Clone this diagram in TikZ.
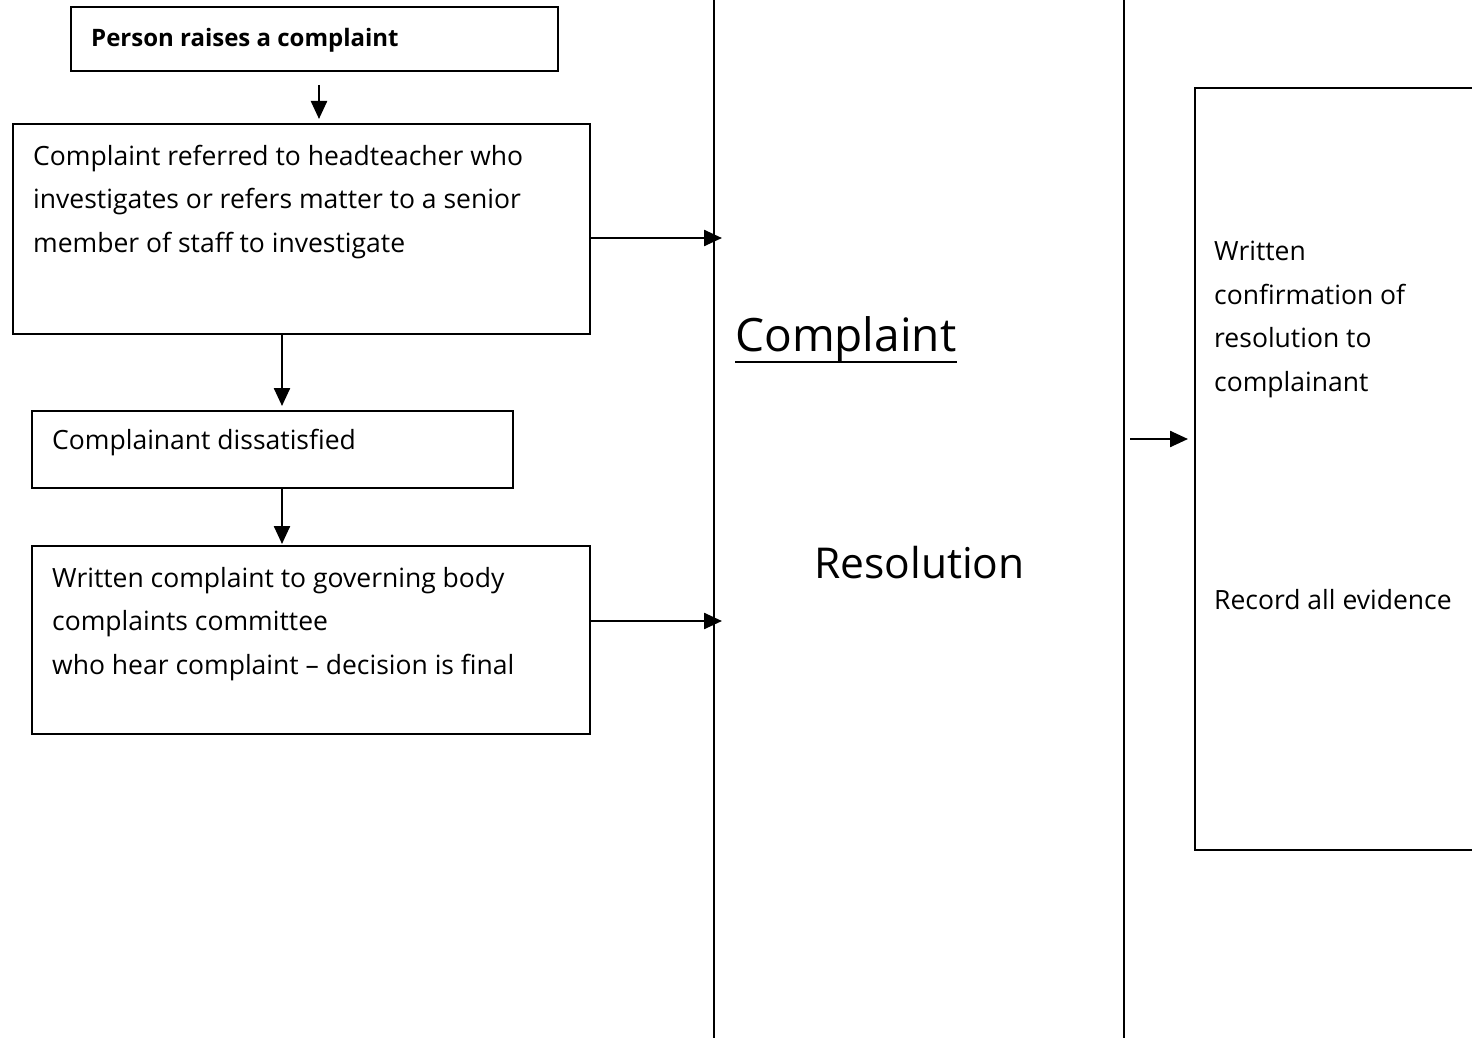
\documentclass[tikz,border=0pt]{standalone}
\usepackage{fontspec}
\setmainfont{Open Sans}
\usetikzlibrary{arrows.meta}
\begin{document}
\begin{tikzpicture}[x=1pt,y=-1pt,
  box/.style={draw=black,line width=2pt,anchor=north west,inner sep=0pt},
  txt/.style={anchor=west,inner sep=0pt,font=\fontsize{26.5}{43.5}\selectfont,align=left},
  conn/.style={line width=2.4pt,-{Triangle[length=18pt,width=16pt]}},
  rule/.style={line width=2pt}]
\useasboundingbox (0,0) rectangle (1472,1038);
% boxes
\node[box,minimum width=487pt,minimum height=64pt] (b1) at (70,6) {};
\node[box,minimum width=577pt,minimum height=210pt] (b2) at (12,123) {};
\node[box,minimum width=481pt,minimum height=77pt] (b3) at (31,410) {};
\node[box,minimum width=558pt,minimum height=188pt] (b4) at (31,545) {};
\node[box,minimum width=290pt,minimum height=762pt] (b5) at (1194,87) {};
% vertical rules
\coordinate (v1t) at (714,0); \coordinate (v1b) at (714,1038);
\coordinate (v2t) at (1124,0); \coordinate (v2b) at (1124,1038);
\draw[rule] (v1t) -- (v1b);
\draw[rule] (v2t) -- (v2b);
% texts
\node[txt,font=\fontsize{24}{30}\selectfont\bfseries] (t1) at (91,40) {Person raises a complaint};
\node[txt,anchor=north west] (t2) at (33,145) {Complaint referred to headteacher who\\investigates or refers matter to a senior\\member of staff to investigate};
\node[txt] (t3) at (52,443) {Complainant dissatisfied};
\node[txt,anchor=north west] (t4) at (52,567) {Written complaint to governing body\\complaints committee\\who hear complaint -- decision is final};
\node[txt,anchor=north west] (t5) at (1214,241) {Written\\confirmation of\\resolution to\\complainant};
\node[txt] (t6) at (1214,600) {Record all evidence};
\node[anchor=west,inner sep=0pt,font=\fontsize{46}{50}\selectfont] (h1) at (735,340) {Complaint};
\draw[line width=1.5pt] (h1.west |- 0,362) -- (h1.east |- 0,362);
\node[anchor=west,inner sep=0pt,font=\fontsize{42.5}{50}\selectfont] (h2) at (814,563) {Resolution};
% connectors
\coordinate (a0) at (319,85);
\draw[conn] (a0) -- ([yshift=4pt]b2.north -| a0);
\draw[conn] (b2.east |- 0,238) -- (722,238);
\draw[conn] (b2.south -| 282,0) -- ([yshift=4pt]b3.north -| 282,0);
\draw[conn] (b3.south -| 282,0) -- ([yshift=1pt]b4.north -| 282,0);
\draw[conn] (b4.east |- 0,621) -- (722,621);
\coordinate (a5) at (1130,439);
\draw[conn] (a5) -- ([xshift=-6pt]b5.west |- a5);
\end{tikzpicture}
\end{document}
